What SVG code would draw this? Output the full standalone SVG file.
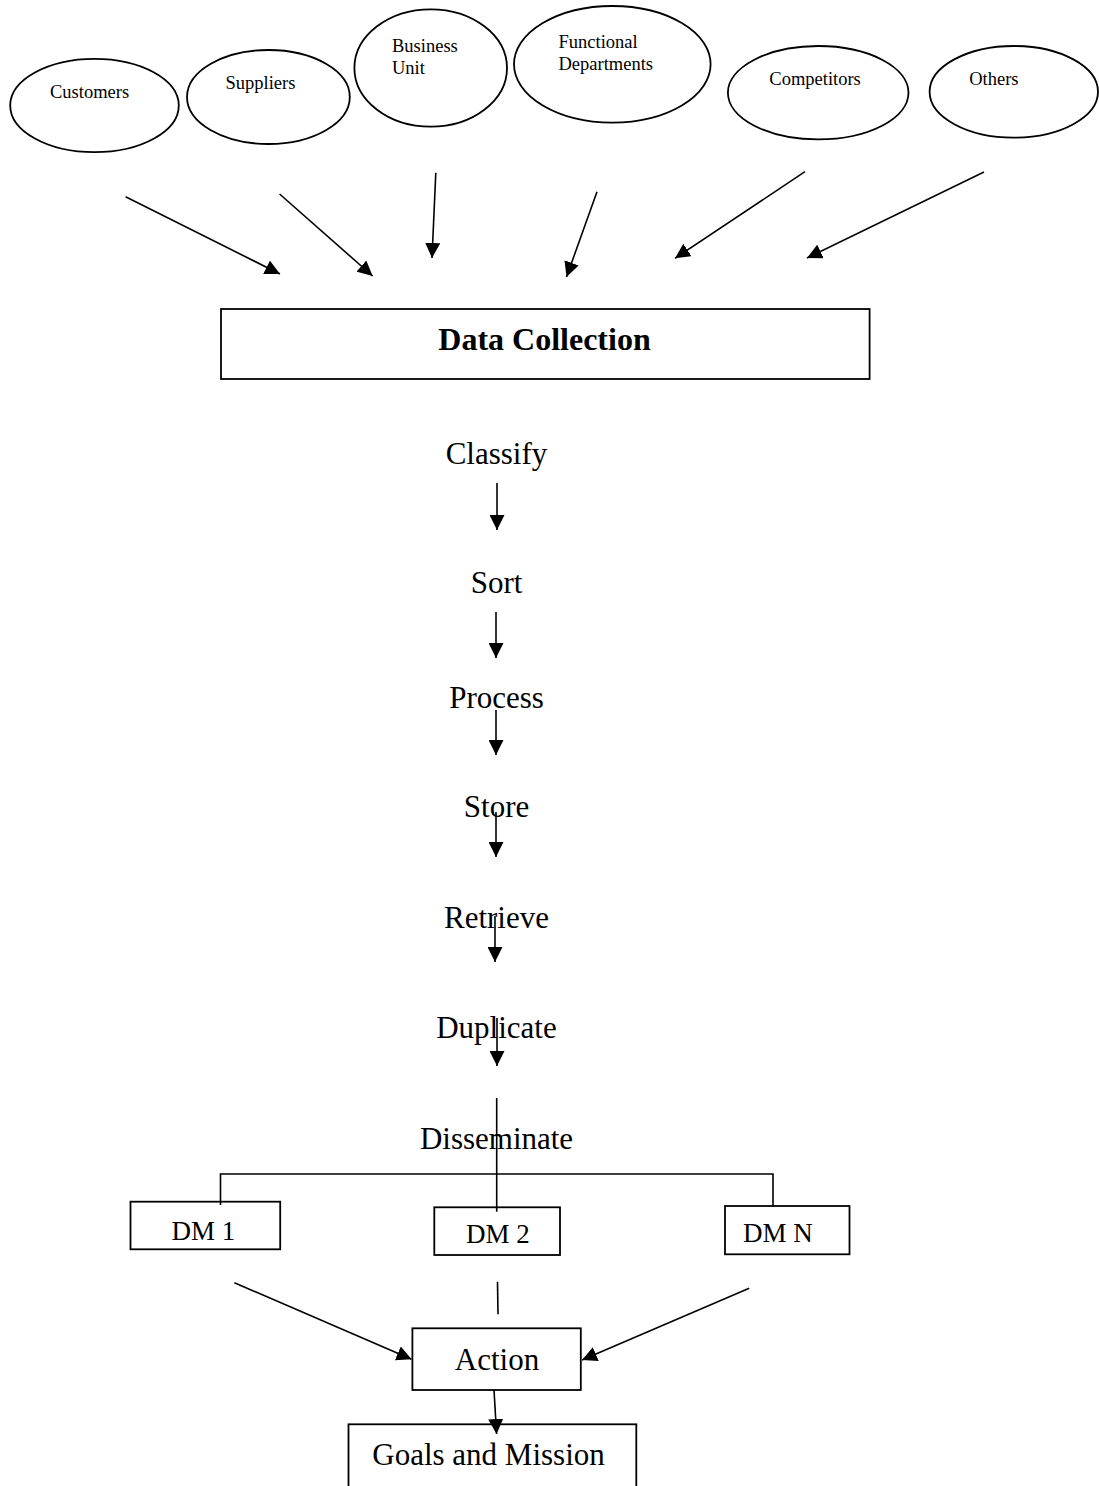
<svg xmlns="http://www.w3.org/2000/svg" width="1099" height="1486" viewBox="0 0 1099 1486">
  <defs>
    <marker id="arrow" viewBox="0 0 15 15" refX="15" refY="7.5" markerWidth="15" markerHeight="15" markerUnits="userSpaceOnUse" orient="auto">
      <path d="M0,0 L15,7.5 L0,15 z" fill="#000"/>
    </marker>
    <style>
      .shape { fill: #fff; stroke: #000; stroke-width: 1.8; }
      .line { fill: none; stroke: #000; stroke-width: 1.6; }
      .arr { fill: none; stroke: #000; stroke-width: 1.6; marker-end: url(#arrow); }
      .src { font-family: "Liberation Serif", "Times New Roman", serif; font-size: 18.5px; fill: #000; }
      .step { font-family: "Liberation Serif", "Times New Roman", serif; font-size: 31px; fill: #000; text-anchor: middle; }
      .dm { font-family: "Liberation Serif", "Times New Roman", serif; font-size: 27px; fill: #000; text-anchor: middle; }
      .title { font-family: "Liberation Serif", "Times New Roman", serif; font-size: 32px; font-weight: bold; fill: #000; text-anchor: middle; }
    </style>
  </defs>
  <rect width="1099" height="1486" fill="#fff"/>

  <!-- information sources -->
  <g id="customers">
    <ellipse class="shape" cx="94.5" cy="105.5" rx="84.3" ry="46.7"/>
    <text class="src" x="50" y="98">Customers</text>
  </g>
  <g id="suppliers">
    <ellipse class="shape" cx="268.4" cy="97" rx="81.4" ry="47"/>
    <text class="src" x="225.5" y="89">Suppliers</text>
  </g>
  <g id="business-unit">
    <ellipse class="shape" cx="430.7" cy="68" rx="76.3" ry="58.7"/>
    <text class="src" x="392" y="52">Business</text>
    <text class="src" x="392" y="74">Unit</text>
  </g>
  <g id="functional-departments">
    <ellipse class="shape" cx="612.3" cy="64.3" rx="98.3" ry="58.3"/>
    <text class="src" x="558.5" y="48">Functional</text>
    <text class="src" x="558.5" y="69.5">Departments</text>
  </g>
  <g id="competitors">
    <ellipse class="shape" cx="818.2" cy="92.7" rx="90.3" ry="46.7"/>
    <text class="src" x="769.3" y="85">Competitors</text>
  </g>
  <g id="others">
    <ellipse class="shape" cx="1013.8" cy="91.8" rx="84.2" ry="45.8"/>
    <text class="src" x="969.2" y="85">Others</text>
  </g>

  <!-- collection box -->
  <g id="data-collection">
    <rect class="shape" x="221" y="309" width="648.6" height="70"/>
    <text class="title" x="544.5" y="350">Data Collection</text>
  </g>

  <!-- processing steps -->
  <g id="classify"><text class="step" x="496.5" y="464">Classify</text></g>
  <g id="sort"><text class="step" x="496.5" y="592.7">Sort</text></g>
  <g id="process"><text class="step" x="496.5" y="708">Process</text></g>
  <g id="store"><text class="step" x="496.5" y="817">Store</text></g>
  <g id="retrieve"><text class="step" x="496.5" y="928">Retrieve</text></g>
  <g id="duplicate"><text class="step" x="496.5" y="1038">Duplicate</text></g>
  <g id="disseminate"><text class="step" x="496.5" y="1149">Disseminate</text></g>

  <!-- decision makers -->
  <g id="dm1">
    <rect class="shape" x="130.5" y="1201.7" width="149.7" height="47.6"/>
    <text class="dm" x="203.5" y="1240">DM 1</text>
  </g>
  <g id="dm2">
    <rect class="shape" x="434.3" y="1207.3" width="125.7" height="47.7"/>
    <text class="dm" x="498" y="1243">DM 2</text>
  </g>
  <g id="dmn">
    <rect class="shape" x="725" y="1206" width="124.5" height="48.3"/>
    <text class="dm" x="778" y="1241.7">DM N</text>
  </g>

  <g id="action">
    <rect class="shape" x="412.4" y="1328.3" width="168.4" height="61.7"/>
    <text class="step" x="497" y="1370">Action</text>
  </g>
  <g id="goals-and-mission">
    <rect class="shape" x="348.5" y="1424.3" width="287.8" height="80"/>
    <text class="step" x="488.5" y="1465">Goals and Mission</text>
  </g>

  <!-- connectors -->
  <g id="connectors">
    <line class="arr" x1="125.6" y1="196.7" x2="280" y2="274"/>
    <line class="arr" x1="279.6" y1="194" x2="372.6" y2="276"/>
    <line class="arr" x1="435.8" y1="172.7" x2="432" y2="258"/>
    <line class="arr" x1="597" y1="191.7" x2="566.5" y2="277"/>
    <line class="arr" x1="805" y1="171.7" x2="675" y2="258.3"/>
    <line class="arr" x1="984" y1="172" x2="807" y2="258"/>

    <line class="arr" x1="497" y1="483" x2="497" y2="530"/>
    <line class="arr" x1="496" y1="612" x2="496" y2="658"/>
    <line class="arr" x1="496" y1="710" x2="496" y2="755"/>
    <line class="arr" x1="496" y1="812" x2="496" y2="857"/>
    <line class="arr" x1="495" y1="916" x2="495" y2="962"/>
    <line class="arr" x1="497" y1="1018" x2="497" y2="1066"/>

    <line class="line" x1="496.7" y1="1098" x2="496.7" y2="1211.7"/>
    <polyline class="line" points="220.5,1205 220.5,1174 773,1174 773,1206"/>

    <line class="arr" x1="234.4" y1="1282.7" x2="411.6" y2="1359.3"/>
    <line class="line" x1="497.5" y1="1281.7" x2="498" y2="1314.3"/>
    <line class="arr" x1="749.2" y1="1288.3" x2="582" y2="1360"/>
    <line class="arr" x1="494" y1="1390" x2="496.6" y2="1434"/>
  </g>
</svg>
